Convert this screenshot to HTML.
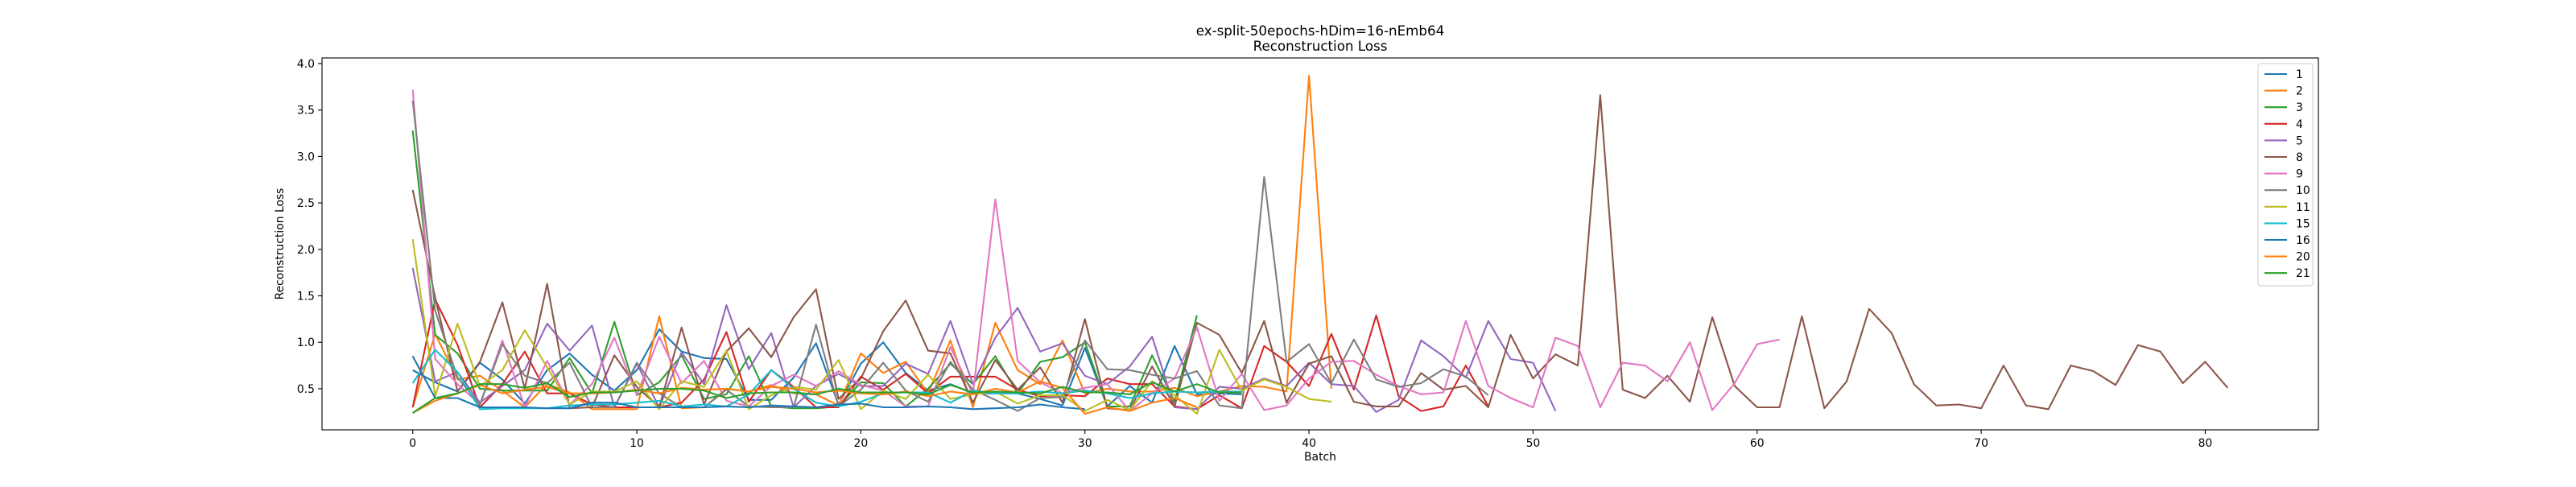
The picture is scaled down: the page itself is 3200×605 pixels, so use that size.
<!DOCTYPE html>
<html><head><meta charset="utf-8"><style>
html,body{margin:0;padding:0;background:#fff;}
svg text{font-family:"DejaVu Sans","Liberation Sans",sans-serif;fill:#000;}
</style></head><body>
<svg id="chart" width="3200" height="600" xmlns="http://www.w3.org/2000/svg">
<rect x="0" y="0" width="3200" height="600" fill="#fff"/>
<text x="1640" y="44" font-size="16.7" text-anchor="middle">ex-split-50epochs-hDim=16-nEmb64</text>
<text x="1640" y="63" font-size="16.7" text-anchor="middle">Reconstruction Loss</text>
<g id="plot"></g>
<rect x="400" y="72" width="2480" height="462" fill="none" stroke="#000" stroke-width="1.1"/>
<g id="axes"></g>
<text x="1640" y="572" font-size="13.9" text-anchor="middle">Batch</text>
<text x="0" y="0" font-size="13.9" text-anchor="middle" transform="translate(352,303) rotate(-90)">Reconstruction Loss</text>
<g id="legend"></g>
</svg>
<script>
const seriesNames = ["1","2","3","4","5","8","9","10","11","15","16","20","21"];
const seriesColors = ["#1f77b4","#ff7f0e","#2ca02c","#d62728","#9467bd","#8c564b","#e377c2","#7f7f7f","#bcbd22","#17becf","#1f77b4","#ff7f0e","#2ca02c"];
const s1 = [0.70,0.57,0.47,0.78,0.60,0.34,0.70,0.88,0.65,0.48,0.70,1.14,0.90,0.83,0.82,0.38,0.38,0.62,0.99,0.33,0.77,1.00,0.67,0.48,0.55,0.45,0.45,0.45,0.39,0.32,0.94,0.31,0.53,0.35,0.96,0.44,0.45,0.44];
const s2 = [0.30,1.09,0.60,0.64,0.48,0.30,0.55,0.46,0.28,0.28,0.28,1.28,0.29,0.30,0.50,0.47,0.54,0.45,0.44,0.32,0.88,0.67,0.79,0.45,1.02,0.30,1.21,0.70,0.55,1.02,0.45,0.50,0.47,0.47,0.51,0.42,0.47,0.53,0.52,0.47,3.87,0.50];
const s3 = [3.28,1.08,0.88,0.50,0.48,0.48,0.48,0.83,0.45,1.22,0.43,0.57,0.86,0.39,0.44,0.85,0.31,0.29,0.29,0.31,0.57,0.56,0.31,0.50,0.77,0.55,0.85,0.45,0.79,0.84,1.00,0.31,0.31,0.86,0.36,1.29];
const s4 = [0.30,1.46,0.97,0.30,0.55,0.90,0.45,0.45,0.33,0.30,0.30,0.30,0.35,0.60,1.11,0.36,0.70,0.52,0.30,0.30,0.63,0.49,0.66,0.45,0.63,0.63,0.63,0.49,0.42,0.43,0.42,0.61,0.55,0.55,0.31,0.28,0.43,0.29,0.96,0.79,0.53,1.09,0.49,1.29,0.42,0.26,0.31,0.75,0.31];
const s5 = [1.80,0.58,0.68,0.35,0.53,0.70,1.20,0.91,1.18,0.30,0.77,0.30,0.89,0.55,1.40,0.71,1.10,0.30,0.53,0.66,0.53,0.53,0.77,0.66,1.23,0.55,1.05,1.37,0.90,0.99,0.64,0.55,0.74,1.06,0.30,0.28,0.52,0.50,0.61,0.53,0.78,0.55,0.53,0.25,0.38,1.02,0.85,0.62,1.23,0.82,0.78,0.26];
const s8 = [2.64,1.48,0.47,0.79,1.43,0.50,1.63,0.29,0.30,0.86,0.52,0.30,1.16,0.33,0.90,1.15,0.84,1.27,1.57,0.39,0.61,1.12,1.45,0.91,0.88,0.35,0.81,0.49,0.73,0.35,1.25,0.29,0.27,0.74,0.31,1.21,1.08,0.67,1.23,0.35,0.77,0.85,0.36,0.31,0.31,0.67,0.49,0.53,0.30,1.08,0.61,0.87,0.75,3.66,0.49,0.40,0.64,0.36,1.27,0.53,0.30,0.30,1.28,0.29,0.58,1.36,1.10,0.55,0.32,0.33,0.29,0.75,0.32,0.28,0.75,0.69,0.54,0.97,0.90,0.56,0.79,0.51];
const s9 = [3.72,0.82,0.55,0.33,1.02,0.30,0.80,0.33,0.55,1.05,0.43,1.06,0.56,0.80,0.37,0.31,0.53,0.65,0.53,0.69,0.54,0.48,0.31,0.31,0.95,0.44,2.54,0.80,0.57,0.45,0.51,0.55,0.26,0.45,0.61,1.16,0.37,0.66,0.27,0.32,0.61,0.79,0.80,0.65,0.53,0.44,0.46,1.23,0.53,0.40,0.30,1.05,0.96,0.30,0.78,0.75,0.58,1.00,0.27,0.56,0.98,1.03];
const s10 = [3.60,1.34,0.62,0.33,0.98,0.64,0.56,0.78,0.30,0.30,0.78,0.45,0.30,0.30,0.49,0.31,0.30,0.30,1.19,0.31,0.49,0.78,0.48,0.36,0.79,0.49,0.38,0.26,0.40,0.41,1.02,0.71,0.70,0.65,0.61,0.69,0.32,0.29,2.78,0.79,0.98,0.56,1.03,0.60,0.52,0.56,0.71,0.63,0.43];
const s11 = [2.11,0.42,1.20,0.53,0.70,1.13,0.73,0.33,0.47,0.47,0.58,0.28,0.58,0.52,0.91,0.28,0.43,0.52,0.49,0.81,0.28,0.48,0.39,0.65,0.39,0.44,0.47,0.34,0.43,0.43,0.26,0.38,0.27,0.58,0.43,0.23,0.92,0.48,0.60,0.52,0.39,0.36];
const s15 = [0.56,0.92,0.68,0.28,0.29,0.29,0.29,0.32,0.33,0.33,0.35,0.37,0.31,0.33,0.31,0.44,0.70,0.50,0.35,0.31,0.36,0.45,0.46,0.46,0.35,0.48,0.45,0.45,0.47,0.45,0.48,0.45,0.40,0.45,0.47,0.46,0.47,0.47];
const s16 = [0.85,0.40,0.40,0.30,0.30,0.30,0.29,0.29,0.35,0.35,0.30,0.30,0.30,0.30,0.31,0.30,0.32,0.31,0.30,0.33,0.34,0.30,0.30,0.31,0.30,0.28,0.29,0.30,0.33,0.30,0.28];
const s20 = [0.24,0.37,0.45,0.54,0.45,0.49,0.52,0.45,0.45,0.46,0.49,0.45,0.51,0.49,0.50,0.47,0.52,0.50,0.46,0.48,0.45,0.44,0.47,0.42,0.47,0.44,0.50,0.46,0.58,0.51,0.23,0.30,0.26,0.35,0.40,0.30];
const s21 = [0.24,0.40,0.45,0.55,0.55,0.51,0.56,0.41,0.46,0.46,0.48,0.50,0.50,0.48,0.40,0.45,0.46,0.46,0.44,0.50,0.46,0.46,0.46,0.44,0.54,0.46,0.47,0.46,0.45,0.52,0.46,0.46,0.44,0.57,0.47,0.55,0.46,0.46];
const seriesValues = [s1,s2,s3,s4,s5,s8,s9,s10,s11,s15,s16,s20,s21];
const xTicks = [0,10,20,30,40,50,60,70,80];
const yTicks = [0.5,1.0,1.5,2.0,2.5,3.0,3.5,4.0];

const NS = "http://www.w3.org/2000/svg";
const L=400,R=2880,T=72,B=534;
const xMin=-4.05,xMax=85.05,yMin=0.0575,yMax=4.0605;
function xs(v){return L+(v-xMin)/(xMax-xMin)*(R-L);}
function ys(v){return B-(v-yMin)/(yMax-yMin)*(B-T);}
function mk(tag,attrs,parent){const e=document.createElementNS(NS,tag);for(const k in attrs)e.setAttribute(k,attrs[k]);parent.appendChild(e);return e;}

const plot=document.getElementById('plot');
seriesValues.forEach((vals,i)=>{
  const pts=vals.map((v,j)=>xs(j).toFixed(1)+','+ys(v).toFixed(1)).join(' ');
  const pl=mk('polyline',{points:pts,fill:'none',stroke:seriesColors[i],'stroke-width':2.1,'stroke-linejoin':'round'},plot);
  
  
});

const axes=document.getElementById('axes');
xTicks.forEach(t=>{
  const x=xs(t);
  const ln=mk('line',{x1:x,x2:x,y1:B,y2:B+5,stroke:'#000','stroke-width':1.1},axes);
  
  
  const tx=mk('text',{x:x,y:B+21,'font-size':13.9,'text-anchor':'middle'},axes);
  tx.textContent=String(t);
  
  
});
yTicks.forEach(t=>{
  const y=ys(t);
  const ln=mk('line',{x1:L-5,x2:L,y1:y,y2:y,stroke:'#000','stroke-width':1.1},axes);
  
  
  const tx=mk('text',{x:L-9,y:y+5,'font-size':13.9,'text-anchor':'end'},axes);
  tx.textContent=t.toFixed(1);
  
  
});

const lg=document.getElementById('legend');
const box=mk('rect',{x:2805,y:79,width:68,height:276,rx:3,fill:'#fff','fill-opacity':0.8,stroke:'#ccc','stroke-width':1},lg);


seriesNames.forEach((n,i)=>{
  const y=92+i*20.6;
  const ln=mk('line',{x1:2813,x2:2841,y1:y,y2:y,stroke:seriesColors[i],'stroke-width':2.1},lg);
  
  
  const tx=mk('text',{x:2852,y:y+5,'font-size':13.9},lg);
  tx.textContent=n;
  
  
});
</script>
</body></html>
